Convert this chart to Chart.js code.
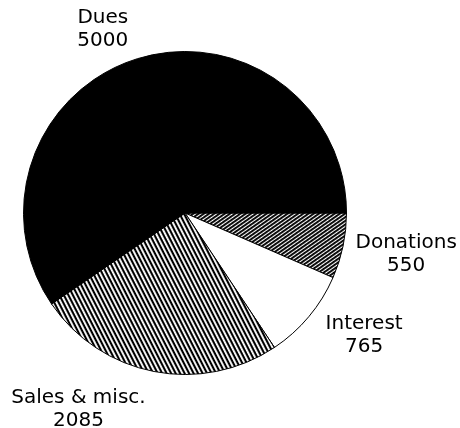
<!DOCTYPE html>
<html>
<head>
<meta charset="utf-8">
<script src="https://cdn.jsdelivr.net/npm/chart.js@4.4.1/dist/chart.umd.min.js"></script>
<style>
  html, body { margin: 0; padding: 0; background: #fff; }
  #wrap { width: 460px; height: 428px; }
</style>
</head>
<body>
<div id="wrap"><canvas id="pie" width="460" height="428"></canvas></div>
<script>
// data, clockwise from 3 o'clock
const categories = ['Donations', 'Interest', 'Sales & misc.', 'Dues'];
const amounts = [550, 765, 2085, 5000];

// label nudges: [angle shift in degrees from slice middle, distance from centre]
const labelNudge = [[-1.2, 225], [-5.6, 217], [17.5, 223], [-7, 201]];

// striped fill, rotated to the given angle
function stripes(spacing, lineW, angle) {
  const tile = document.createElement('canvas');
  tile.width = spacing;
  tile.height = spacing;
  const t = tile.getContext('2d');
  t.fillStyle = '#fff';
  t.fillRect(0, 0, spacing, spacing);
  t.fillStyle = '#000';
  t.fillRect(0, 0, spacing, lineW);
  const pat = document.getElementById('pie').getContext('2d').createPattern(tile, 'repeat');
  pat.setTransform(new DOMMatrix().rotate(angle));
  return pat;
}

const fills = [
  stripes(3, 1.9, -35),   // donations: dense, rising
  '#ffffff',              // interest: plain
  stripes(4.3, 2.1, 63),  // sales: steep, falling
  '#000000',              // dues: solid
];

const sliceLabels = {
  id: 'sliceLabels',
  afterDraw(chart) {
    const ctx = chart.ctx;
    const arcs = chart.getDatasetMeta(0).data;
    ctx.save();
    ctx.fillStyle = '#000';
    ctx.font = '20px "DejaVu Sans", sans-serif';
    ctx.textAlign = 'center';
    ctx.textBaseline = 'middle';
    arcs.forEach((arc, i) => {
      const mid = (arc.startAngle + arc.endAngle) / 2 + labelNudge[i][0] * Math.PI / 180;
      const d = labelNudge[i][1];
      const x = arc.x + Math.cos(mid) * d;
      const y = arc.y + Math.sin(mid) * d;
      ctx.fillText(categories[i], x, y - 11.5);
      ctx.fillText(String(amounts[i]), x, y + 11.5);
    });
    ctx.restore();
  }
};

new Chart(document.getElementById('pie'), {
  type: 'pie',
  data: {
    labels: categories,
    datasets: [{
      data: amounts,
      backgroundColor: fills,
      borderColor: '#000',
      borderWidth: 1,
    }],
  },
  options: {
    responsive: false,
    animation: false,
    rotation: 90,
    layout: { padding: { left: 23, right: 113, top: 51, bottom: 53 } },
    plugins: {
      legend: { display: false },
      tooltip: { enabled: false },
    },
  },
  plugins: [sliceLabels],
});
</script>
</body>
</html>
